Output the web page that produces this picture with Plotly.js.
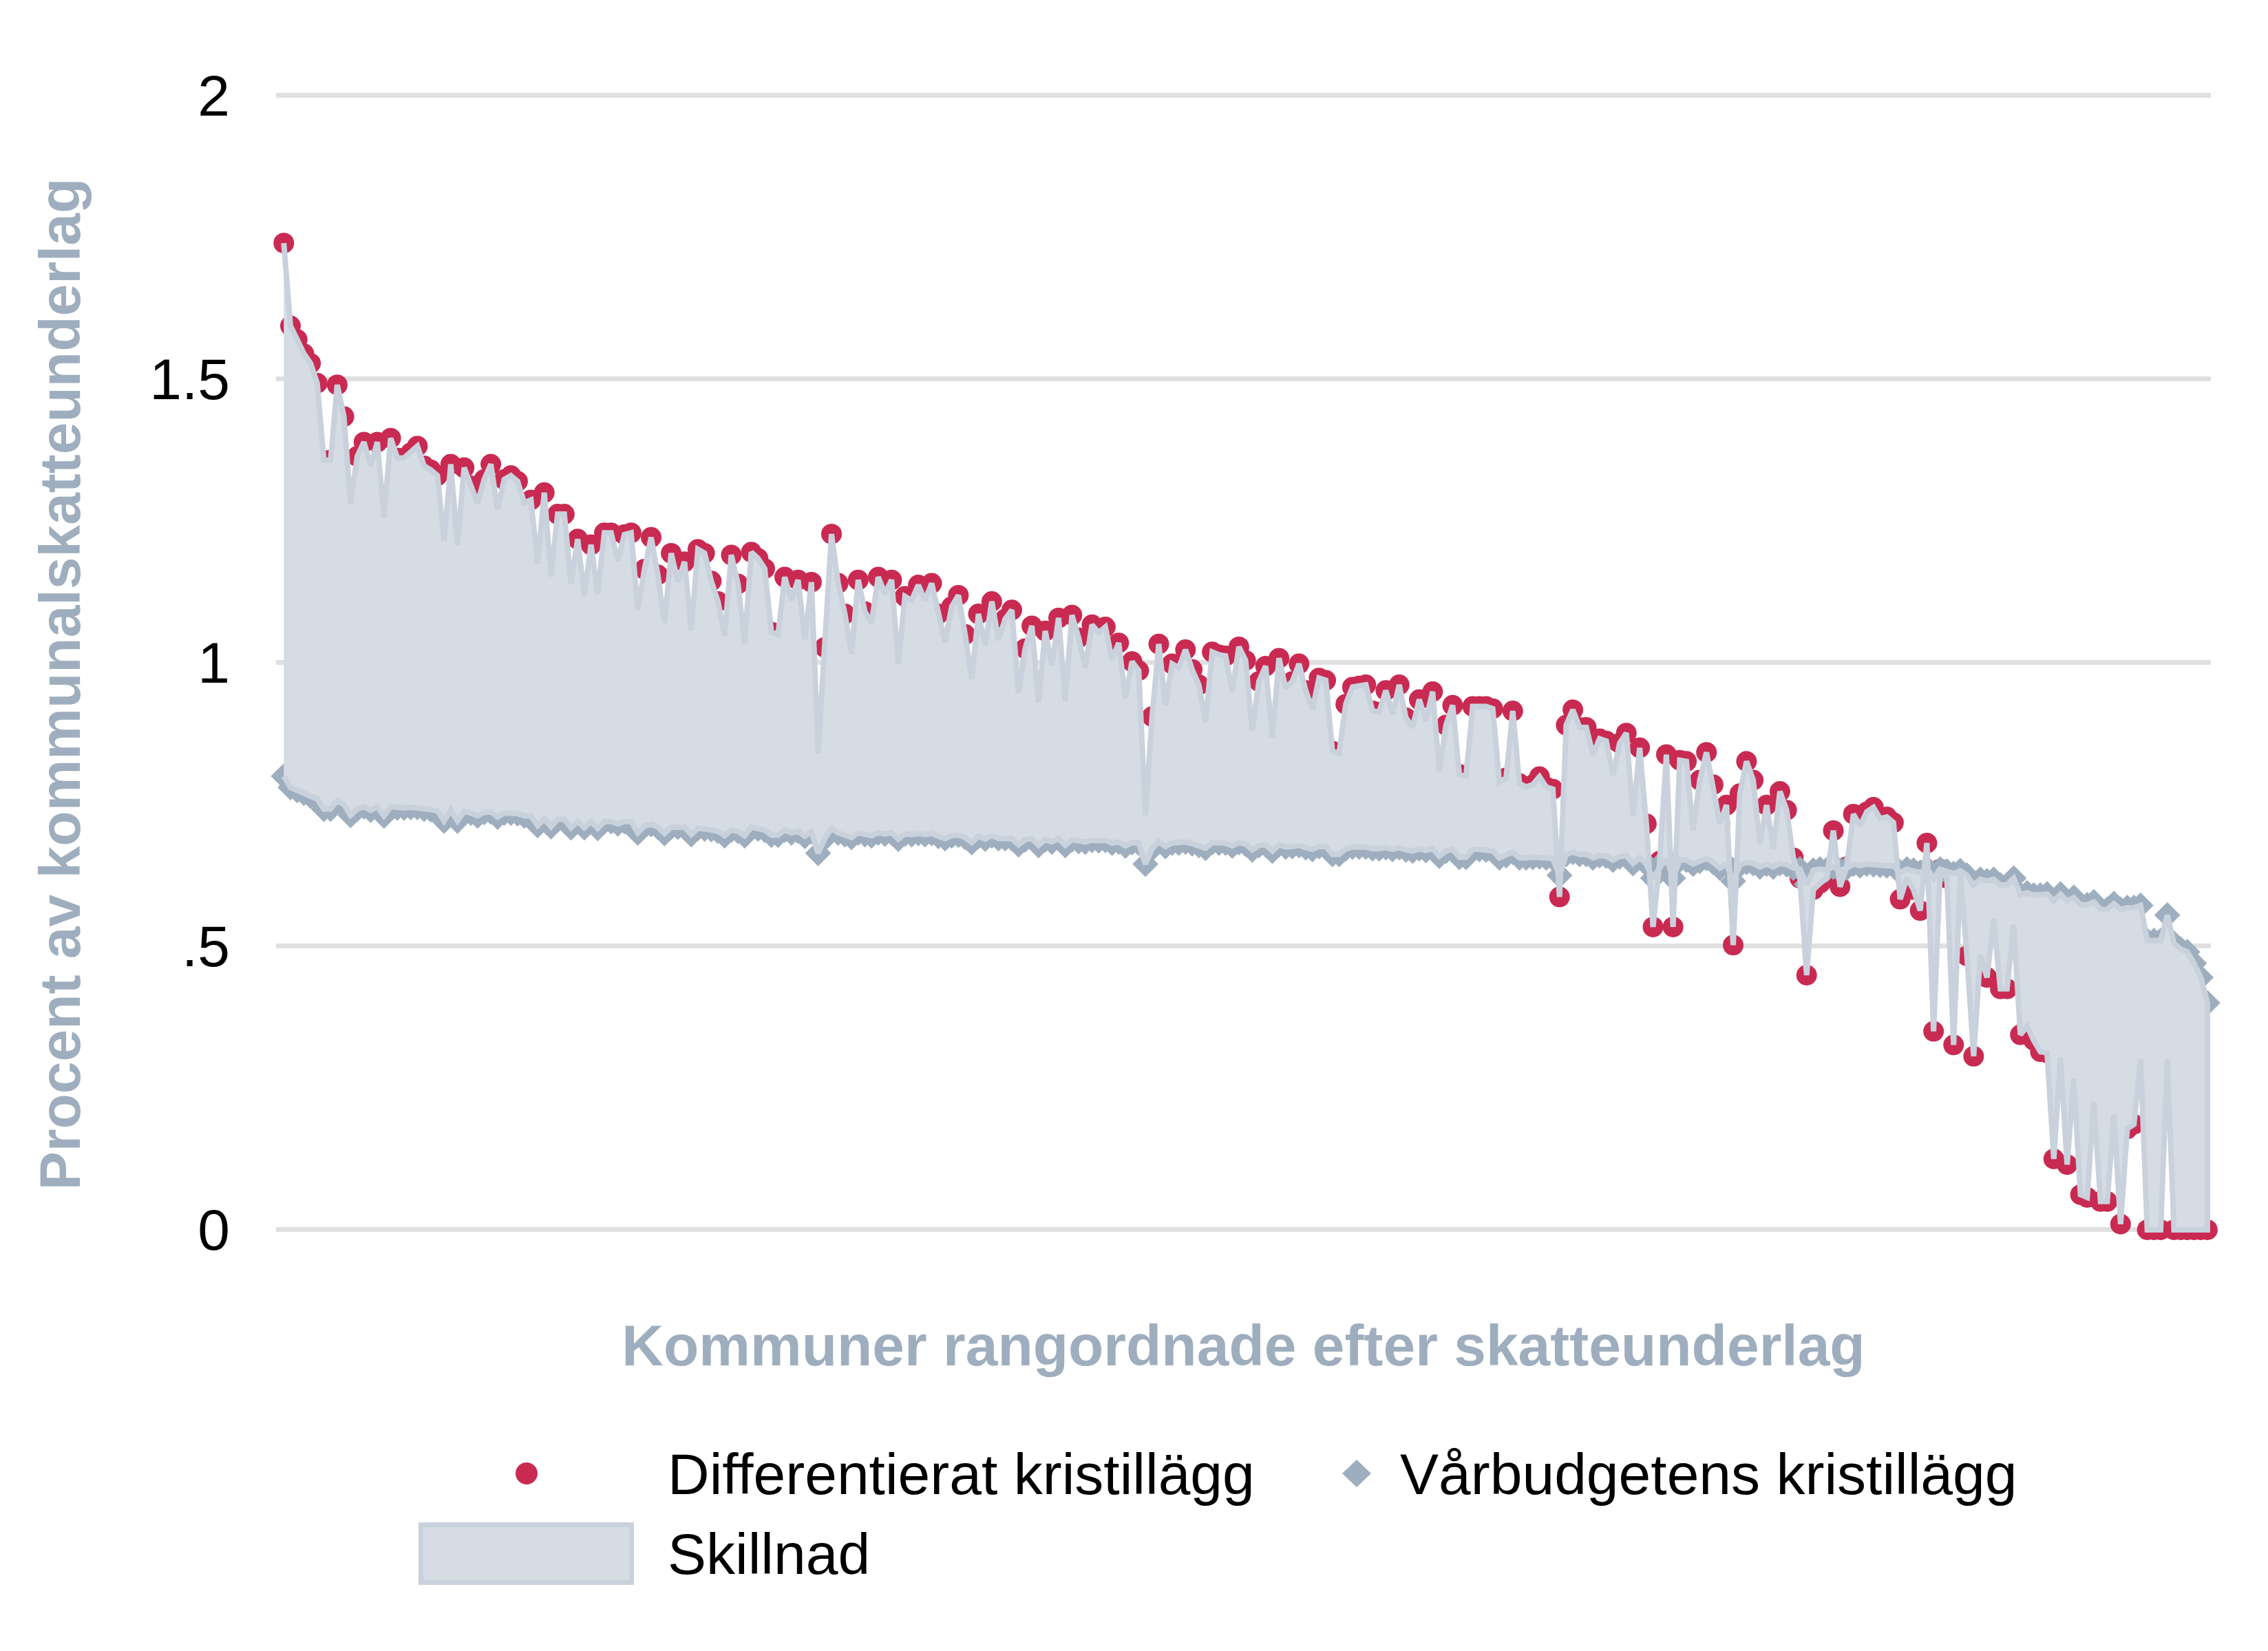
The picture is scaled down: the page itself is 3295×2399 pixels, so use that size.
<!DOCTYPE html>
<html>
<head>
<meta charset="utf-8">
<script src="https://cdn.plot.ly/plotly-3.0.1.min.js"></script>
<style>
  html, body { margin: 0; padding: 0; background: #ffffff; }
  #chart { width: 3295px; height: 2399px; }
</style>
</head>
<body>
<div id="chart"></div>
<script>
// Differentierat kristillägg (procent av kommunalskatteunderlag), kommuner rangordnade efter skatteunderlag
const differentierat = [
  1.740, 1.594, 1.570, 1.545, 1.528, 1.493, 1.357, 1.357, 1.490, 1.434,
  1.281, 1.364, 1.389, 1.347, 1.389, 1.256, 1.396, 1.361, 1.361, 1.370,
  1.382, 1.347, 1.340, 1.330, 1.215, 1.350, 1.208, 1.344, 1.312, 1.281,
  1.323, 1.350, 1.270, 1.323, 1.330, 1.320, 1.282, 1.287, 1.175, 1.300,
  1.152, 1.262, 1.262, 1.139, 1.218, 1.119, 1.208, 1.121, 1.229, 1.229,
  1.180, 1.226, 1.229, 1.093, 1.165, 1.221, 1.155, 1.070, 1.193, 1.142,
  1.178, 1.057, 1.200, 1.193, 1.144, 1.108, 1.047, 1.190, 1.139, 1.034,
  1.195, 1.184, 1.166, 1.054, 1.050, 1.151, 1.110, 1.146, 1.041, 1.142,
  0.841, 1.027, 1.227, 1.140, 1.086, 1.016, 1.146, 1.090, 1.070, 1.151,
  1.122, 1.146, 0.998, 1.117, 1.110, 1.137, 1.110, 1.140, 1.086, 1.036,
  1.099, 1.119, 1.050, 0.971, 1.086, 1.030, 1.108, 1.040, 1.077, 1.093,
  0.947, 1.025, 1.065, 0.930, 1.056, 0.995, 1.079, 0.933, 1.084, 1.044,
  0.991, 1.067, 1.053, 1.063, 1.005, 1.035, 0.937, 1.002, 0.986, 0.731,
  0.905, 1.033, 0.926, 0.998, 0.991, 1.023, 0.988, 0.961, 0.896, 1.019,
  1.014, 1.012, 0.949, 1.028, 1.004, 0.880, 0.967, 0.994, 0.868, 1.008,
  0.955, 0.967, 0.998, 0.951, 0.917, 0.973, 0.969, 0.844, 0.840, 0.927,
  0.957, 0.959, 0.961, 0.915, 0.913, 0.951, 0.909, 0.961, 0.903, 0.886,
  0.935, 0.898, 0.949, 0.809, 0.890, 0.925, 0.803, 0.800, 0.923, 0.923,
  0.923, 0.919, 0.789, 0.797, 0.915, 0.787, 0.781, 0.785, 0.799, 0.781,
  0.777, 0.587, 0.890, 0.917, 0.886, 0.886, 0.838, 0.866, 0.862, 0.801,
  0.858, 0.876, 0.729, 0.850, 0.716, 0.534, 0.650, 0.838, 0.534, 0.828,
  0.826, 0.704, 0.793, 0.842, 0.785, 0.716, 0.749, 0.502, 0.769, 0.826,
  0.793, 0.680, 0.749, 0.672, 0.773, 0.740, 0.656, 0.620, 0.449, 0.600,
  0.611, 0.620, 0.704, 0.605, 0.640, 0.733, 0.712, 0.737, 0.745, 0.725,
  0.728, 0.718, 0.583, 0.620, 0.600, 0.563, 0.682, 0.350, 0.636, 0.620,
  0.326, 0.630, 0.483, 0.306, 0.485, 0.445, 0.548, 0.425, 0.425, 0.538,
  0.344, 0.359, 0.334, 0.314, 0.312, 0.125, 0.304, 0.115, 0.266, 0.062,
  0.057, 0.226, 0.050, 0.050, 0.203, 0.010, 0.178, 0.186, 0.301, 0.000,
  0.000, 0.000, 0.301, 0.000, 0.000, 0.000, 0.000, 0.000, 0.000
];

// Vårbudgetens kristillägg
const varbudget = [
  0.800, 0.780, 0.775, 0.770, 0.765, 0.760, 0.742, 0.742, 0.757, 0.750,
  0.731, 0.742, 0.746, 0.740, 0.746, 0.730, 0.746, 0.744, 0.744, 0.745,
  0.745, 0.742, 0.741, 0.739, 0.721, 0.740, 0.721, 0.738, 0.735, 0.730,
  0.736, 0.737, 0.728, 0.735, 0.735, 0.734, 0.730, 0.730, 0.713, 0.725,
  0.711, 0.724, 0.724, 0.709, 0.720, 0.709, 0.720, 0.708, 0.720, 0.720,
  0.716, 0.720, 0.720, 0.700, 0.712, 0.715, 0.710, 0.699, 0.710, 0.710,
  0.710, 0.697, 0.708, 0.707, 0.706, 0.703, 0.695, 0.705, 0.703, 0.695,
  0.710, 0.707, 0.705, 0.696, 0.696, 0.705, 0.700, 0.703, 0.694, 0.702,
  0.664, 0.690, 0.708, 0.700, 0.697, 0.692, 0.700, 0.697, 0.695, 0.700,
  0.698, 0.700, 0.689, 0.698, 0.697, 0.699, 0.697, 0.699, 0.694, 0.690,
  0.695, 0.696, 0.692, 0.683, 0.694, 0.689, 0.695, 0.690, 0.690, 0.690,
  0.679, 0.688, 0.690, 0.678, 0.688, 0.684, 0.690, 0.678, 0.688, 0.685,
  0.684, 0.687, 0.686, 0.687, 0.682, 0.684, 0.677, 0.683, 0.682, 0.645,
  0.672, 0.685, 0.676, 0.682, 0.682, 0.684, 0.681, 0.678, 0.673, 0.683,
  0.682, 0.682, 0.677, 0.683, 0.680, 0.670, 0.678, 0.679, 0.668, 0.679,
  0.675, 0.676, 0.678, 0.674, 0.671, 0.676, 0.676, 0.662, 0.662, 0.672,
  0.675, 0.675, 0.675, 0.672, 0.672, 0.674, 0.671, 0.674, 0.670, 0.668,
  0.672, 0.669, 0.672, 0.659, 0.668, 0.671, 0.657, 0.657, 0.671, 0.671,
  0.670, 0.668, 0.656, 0.660, 0.666, 0.656, 0.656, 0.657, 0.658, 0.656,
  0.655, 0.625, 0.662, 0.666, 0.662, 0.662, 0.656, 0.660, 0.659, 0.652,
  0.658, 0.660, 0.646, 0.656, 0.645, 0.620, 0.638, 0.655, 0.620, 0.652,
  0.652, 0.645, 0.650, 0.655, 0.648, 0.638, 0.645, 0.615, 0.643, 0.648,
  0.646, 0.640, 0.645, 0.640, 0.646, 0.644, 0.638, 0.636, 0.609, 0.634,
  0.636, 0.635, 0.640, 0.634, 0.638, 0.645, 0.642, 0.645, 0.644, 0.643,
  0.642, 0.642, 0.630, 0.636, 0.634, 0.630, 0.638, 0.620, 0.636, 0.632,
  0.628, 0.633, 0.625, 0.608, 0.618, 0.615, 0.618, 0.608, 0.608, 0.620,
  0.591, 0.594, 0.590, 0.590, 0.592, 0.580, 0.592, 0.580, 0.586, 0.573,
  0.573, 0.578, 0.565, 0.565, 0.575, 0.565, 0.568, 0.568, 0.572, 0.510,
  0.510, 0.510, 0.555, 0.505, 0.495, 0.490, 0.470, 0.445, 0.400
];

// Tick labels of the value axis
const yTickVals = [0, 0.5, 1, 1.5, 2];
const yTickText = ['0', '.5', '1', '1.5', '2'];

// Texts
const seriesNames = ['Differentierat kristillägg', 'Vårbudgetens kristillägg', 'Skillnad'];
const xTitle = 'Kommuner rangordnade efter skatteunderlag';
const yTitle = 'Procent av kommunalskatteunderlag';

// Rank of each municipality (position along the x axis)
const rank = differentierat.map((_, i) => i + 1);

// Styles
const RED = '#c92a52';
const GREY_DIAMOND = '#9eaebe';
const AREA_FILL = '#d5dce4';
const AREA_LINE = '#c9d2dc';
const TITLE_GREY = '#9eaebe';
const FONT = 'Liberation Sans, Arial, Helvetica, sans-serif';

const W = 3295, H = 2399;
const M = { l: 401, r: 83, t: 130, b: 541 };
const plotW = W - M.l - M.r;
const plotH = H - M.t - M.b;
const px = x => (x - M.l) / plotW;           // page px -> paper x
const py = y => (H - M.b - y) / plotH;        // page px -> paper y

const traces = [
  {
    type: 'scatter', mode: 'markers', name: seriesNames[0],
    x: rank, y: differentierat,
    marker: { size: 30, color: RED, line: { width: 0 } },
    cliponaxis: false, showlegend: false, hoverinfo: 'x+y'
  },
  {
    type: 'scatter', mode: 'markers', name: seriesNames[1],
    x: rank, y: varbudget,
    marker: { size: 29, symbol: 'diamond', color: GREY_DIAMOND, line: { width: 0 } },
    cliponaxis: false, showlegend: false, hoverinfo: 'x+y'
  },
  {
    type: 'scatter', mode: 'lines', name: seriesNames[2],
    x: rank.concat(rank.slice().reverse()),
    y: differentierat.concat(varbudget.slice().reverse()),
    fill: 'toself', fillcolor: AREA_FILL,
    line: { color: AREA_LINE, width: 8 },
    cliponaxis: false, showlegend: false, hoverinfo: 'skip'
  }
];

// Legend drawn by hand (keys outside the plot area)
const legendShapes = [
  { type: 'circle', xref: 'paper', yref: 'paper',
    x0: px(749), x1: px(781), y0: py(2157), y1: py(2125),
    fillcolor: RED, line: { width: 0 } },
  { type: 'path', xref: 'paper', yref: 'paper',
    path: `M ${px(1950)} ${py(2141)} L ${px(1971)} ${py(2121)} L ${px(1992)} ${py(2141)} L ${px(1971)} ${py(2161)} Z`,
    fillcolor: GREY_DIAMOND, line: { width: 0 } },
  { type: 'rect', xref: 'paper', yref: 'paper',
    x0: px(611.5), x1: px(917.5), y0: py(2299.5), y1: py(2215.5),
    fillcolor: AREA_FILL, line: { color: AREA_LINE, width: 7 } }
];

const legendFont = { family: FONT, size: 84, color: '#000000' };
const legendAnn = [
  { text: seriesNames[0], x: px(968), y: py(2142), xanchor: 'left', yanchor: 'middle' },
  { text: seriesNames[1], x: px(2032), y: py(2142), xanchor: 'left', yanchor: 'middle' },
  { text: seriesNames[2], x: px(968), y: py(2258), xanchor: 'left', yanchor: 'middle' }
].map(a => Object.assign({ xref: 'paper', yref: 'paper', showarrow: false, font: legendFont }, a));

const layout = {
  width: W, height: H,
  margin: M,
  paper_bgcolor: '#ffffff', plot_bgcolor: '#ffffff',
  font: { family: FONT, size: 84, color: '#000000' },
  showlegend: false,
  xaxis: {
    range: [-0.1645, 289.52],
    showgrid: false, zeroline: false, showline: false,
    showticklabels: false, ticks: '',
    title: { text: xTitle, standoff: 67,
             font: { family: FONT, size: 84, color: TITLE_GREY, weight: 'bold' } }
  },
  yaxis: {
    range: [-0.0862, 2.0109],
    tickvals: yTickVals, ticktext: yTickText,
    ticks: '', ticklabelstandoff: 66,
    tickfont: { family: FONT, size: 84, color: '#000000' },
    showgrid: true, gridcolor: '#e0e0e0', gridwidth: 7,
    zeroline: false, showline: false,
    title: { text: yTitle, standoff: 72,
             font: { family: FONT, size: 84, color: TITLE_GREY, weight: 'bold' } }
  },
  shapes: legendShapes,
  annotations: legendAnn
};

Plotly.newPlot('chart', traces, layout, { displayModeBar: false, staticPlot: true });
</script>
</body>
</html>
